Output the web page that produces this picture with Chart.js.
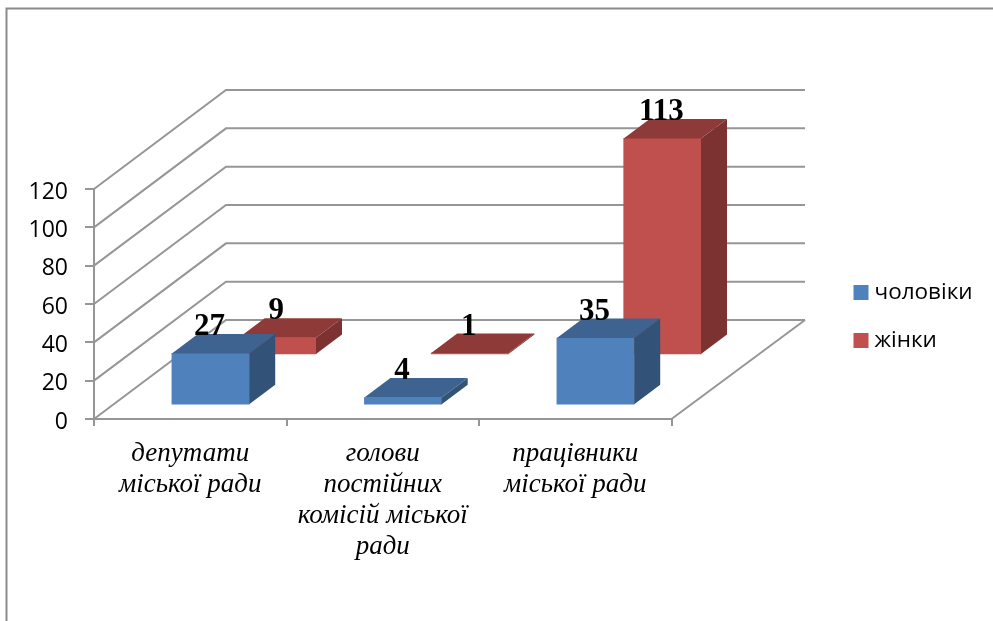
<!DOCTYPE html>
<html>
<head>
<meta charset="utf-8">
<style>html,body{margin:0;padding:0;background:#fff;overflow:hidden}canvas{display:block}</style>
<script src="https://cdn.jsdelivr.net/npm/chart.js@4"></script>
</head>
<body>
<canvas id="c" width="993" height="621"></canvas>
<script>
const categories = [
  ["депутати", "міської ради"],
  ["голови", "постійних", "комісій міської", "ради"],
  ["працівники", "міської ради"]
];
const men = [27, 4, 35];
const women = [9, 1, 113];
const seriesNames = ["чоловіки", "жінки"];
const yTicks = [0, 20, 40, 60, 80, 100, 120];

const GRID = "#969696";
const palette = [
  {front: "#4f81bd", top: "#3e6390", side: "#335277", dx: 20.3, dy: -13.8},
  {front: "#c0504d", top: "#8e3a38", side: "#7c3230", dx: 87.1, dy: -64}
];
const BAR_DX = 26, BAR_DY = -19.5;
const WALL_DX = 132, WALL_DY = -99, FLOOR_END_DX = 133.5;

const threeD = {
  id: "threeD",
  beforeDraw(chart) {
    const {ctx} = chart;
    ctx.save();
    ctx.strokeStyle = "#8a8a8a";
    ctx.lineWidth = 2;
    ctx.beginPath();
    ctx.moveTo(6.5, 621);
    ctx.lineTo(6.5, 8.5);
    ctx.lineTo(993, 8.5);
    ctx.stroke();
    ctx.restore();
  },
  afterLayout(chart) {
    const lg = chart.legend;
    lg.left = 833.25;
    lg.right = 993;
    lg.top = 255.75;
    lg.bottom = 600;
  },
  beforeDatasetsDraw(chart) {
    const {ctx, chartArea: a, scales: {y}} = chart;
    ctx.save();
    ctx.strokeStyle = GRID;
    ctx.lineWidth = 2;
    yTicks.forEach(v => {
      const p = y.getPixelForValue(v);
      ctx.beginPath();
      ctx.moveTo(a.left, p);
      ctx.lineTo(a.left + WALL_DX, p + WALL_DY);
      ctx.lineTo(a.right + FLOOR_END_DX, p + WALL_DY);
      ctx.stroke();
    });
    const b = y.getPixelForValue(0);
    ctx.beginPath();
    ctx.moveTo(a.right, b);
    ctx.lineTo(a.right + FLOOR_END_DX, b + WALL_DY);
    ctx.stroke();
    ctx.restore();
  },
  beforeDatasetDraw(chart, args) {
    const s = palette[args.index];
    chart.ctx.save();
    chart.ctx.translate(s.dx, s.dy);
  },
  afterDatasetDraw(chart, args) {
    const {ctx} = chart;
    const s = palette[args.index];
    args.meta.data.forEach(el => {
      const l = el.x - el.width / 2, r = el.x + el.width / 2, t = el.y, b = el.base;
      ctx.fillStyle = s.top;
      ctx.beginPath();
      ctx.moveTo(l, t);
      ctx.lineTo(l + BAR_DX, t + BAR_DY);
      ctx.lineTo(r + BAR_DX, t + BAR_DY);
      ctx.lineTo(r, t);
      ctx.closePath();
      ctx.fill();
      ctx.fillStyle = s.side;
      ctx.beginPath();
      ctx.moveTo(r, t);
      ctx.lineTo(r + BAR_DX, t + BAR_DY);
      ctx.lineTo(r + BAR_DX, b + BAR_DY);
      ctx.lineTo(r, b);
      ctx.closePath();
      ctx.fill();
    });
    ctx.restore();
  },
  afterDatasetsDraw(chart) {
    const {ctx} = chart;
    ctx.save();
    ctx.fillStyle = "#000";
    ctx.font = "bold 31px 'Liberation Serif'";
    ctx.textAlign = "center";
    ctx.textBaseline = "alphabetic";
    chart.data.datasets.forEach((ds, i) => {
      const s = palette[i];
      chart.getDatasetMeta(i).data.forEach((el, j) => {
        ctx.fillText(String(ds.data[j]), el.x + s.dx - 1, el.y + s.dy - 18.5);
      });
    });
    ctx.restore();
  }
};

new Chart(document.getElementById("c"), {
  type: "bar",
  data: {
    labels: categories,
    datasets: [
      {label: seriesNames[0], data: men, backgroundColor: palette[0].front},
      {label: seriesNames[1], data: women, backgroundColor: palette[1].front}
    ]
  },
  options: {
    responsive: false,
    animation: false,
    grouped: false,
    clip: false,
    barThickness: 77.3,
    layout: {padding: {top: 189, right: 321.5, left: 0, bottom: 0}},
    plugins: {
      tooltip: {enabled: false},
      title: {display: false},
      legend: {
        position: "chartArea",
        align: "start",
        labels: {
          usePointStyle: true,
          pointStyle: "rect",
          boxWidth: 4.5,
          boxHeight: 15,
          padding: 25.5,
          color: "#000",
          font: {family: "'Open Sans'", size: 22.5}
        }
      }
    },
    scales: {
      x: {
        afterFit(s) { s.height = 202; },
        grid: {drawOnChartArea: false, color: GRID, lineWidth: 2, tickLength: 7, offset: true},
        border: {color: GRID, width: 2},
        ticks: {
          autoSkip: false, maxRotation: 0, minRotation: 0, padding: 12, color: "#000",
          font: {family: "'Liberation Serif'", style: "italic", size: 27, lineHeight: 1.15}
        }
      },
      y: {
        min: 0, max: 120,
        afterFit(s) { s.width = 94; },
        grid: {drawOnChartArea: false, color: GRID, lineWidth: 2, tickLength: 9},
        border: {color: GRID, width: 2},
        ticks: {stepSize: 20, padding: 17, labelOffset: 3, color: "#000", font: {family: "'Open Sans'", size: 23}}
      }
    }
  },
  plugins: [threeD]
});
</script>
</body>
</html>
